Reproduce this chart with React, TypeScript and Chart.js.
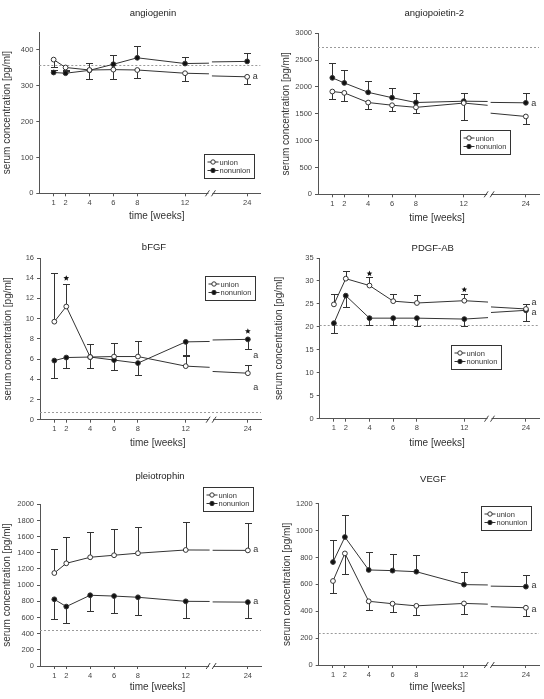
import { useEffect, useRef } from "react";
import { Chart, registerables } from "chart.js";

Chart.register(...registerables);

// ---------- data ----------
const weeks = [1, 2, 4, 6, 8, 12, 24];
const weekLabels = ["1", "2", "4", "6", "8", "12", "24"];
const seriesNames = ["union", "nonunion"];

const angiogeninUnion = [373, 351, 344, 345, 344, 335, 325];
const angiogeninUnionErr = [352, 345, 318, 320, 322, 313, 305];
const angiogeninNonunion = [337, 335, 343, 360, 378, 362, 368];
const angiogeninNonunionErr = [345, 342, 363, 385, 410, 381, 391];
const angiogeninRef = 357;
const angiogeninTicks = [0, 100, 200, 300, 400];
const angiogeninA = [325];
const angiogeninStars: number[][] = [];

const angiopoietinUnion = [1915, 1890, 1710, 1660, 1620, 1700, 1450];
const angiopoietinUnionErr = [1770, 1745, 1595, 1560, 1520, 1385, 1315];
const angiopoietinNonunion = [2170, 2075, 1900, 1800, 1710, 1735, 1705];
const angiopoietinNonunionErr = [2450, 2310, 2110, 1985, 1880, 1880, 1880];
const angiopoietinRef = 2750;
const angiopoietinTicks = [0, 500, 1000, 1500, 2000, 2500, 3000];
const angiopoietinA = [1696];
const angiopoietinStars: number[][] = [];

const bfgfUnion = [9.7, 11.2, 6.2, 6.25, 6.25, 5.3, 4.6];
const bfgfUnionErr = [14.5, 13.45, 7.5, 7.55, 7.8, 6.4, 5.45];
const bfgfNonunion = [5.85, 6.15, 6.2, 5.9, 5.6, 7.7, 7.95];
const bfgfNonunionErr = [4.15, 5.1, 5.1, 4.9, 4.45, 6.35, 7.0];
const bfgfRef = 0.75;
const bfgfTicks = [0, 2, 4, 6, 8, 10, 12, 14, 16];
const bfgfA = [6.4, 3.2];
const bfgfStars = [[2, 14.0], [24, 8.75]];

const pdgfUnion = [24.9, 30.5, 29.0, 25.6, 25.2, 25.7, 23.9];
const pdgfUnionErr = [27.1, 32.2, 30.8, 27.2, 27.0, 27.1, 25.05];
const pdgfNonunion = [20.8, 26.8, 21.9, 21.9, 21.9, 21.7, 23.6];
const pdgfNonunionErr = [18.7, 24.3, 20.4, 20.4, 20.2, 20.1, 21.3];
const pdgfRef = 20.3;
const pdgfTicks = [0, 5, 10, 15, 20, 25, 30, 35];
const pdgfA = [25.3, 23.2];
const pdgfStars = [[4, 31.6], [12, 28.1]];

const pleiotrophinUnion = [1150, 1270, 1345, 1370, 1395, 1435, 1430];
const pleiotrophinUnionErr = [1450, 1590, 1655, 1690, 1720, 1780, 1765];
const pleiotrophinNonunion = [825, 735, 875, 865, 850, 800, 790];
const pleiotrophinNonunionErr = [585, 530, 675, 655, 630, 598, 595];
const pleiotrophinRef = 440;
const pleiotrophinTicks = [0, 200, 400, 600, 800, 1000, 1200, 1400, 1600, 1800, 2000];
const pleiotrophinA = [1439, 792];
const pleiotrophinStars: number[][] = [];

const vegfUnion = [625, 830, 474, 456, 440, 458, 426];
const vegfUnionErr = [538, 674, 407, 394, 374, 382, 365];
const vegfNonunion = [766, 952, 707, 702, 694, 598, 583];
const vegfNonunionErr = [932, 1113, 843, 828, 821, 692, 672];
const vegfRef = 235;
const vegfTicks = [0, 200, 400, 600, 800, 1000, 1200];
const vegfA = [595, 414];
const vegfStars: number[][] = [];

// ---------- layout ----------
const FONT = "'Liberation Sans', Arial, Helvetica, sans-serif";
const INK = "#333";
const PANEL_W = 272;
const PANEL_H = 233;
const PLOT_W = 221;
const X_MIN = -0.2;
const X_MAX = 18.3;
const BREAK_START_WEEK = 14;
const BREAK_END_WEEK = 21.05;
const BREAK_SHIFT = 6.8;
const pos = (w: number) => (w <= BREAK_START_WEEK ? w : w - BREAK_SHIFT);

type PanelCfg = {
  title: string;
  union: number[];
  unionErr: number[];
  nonunion: number[];
  nonunionErr: number[];
  ref: number;
  ticks: number[];
  aVals: number[];
  stars: number[][];
  col: number;
  row: number;
  left: number;
  top: number;
  bottom: number;
  max: number;
  titleX: number;
  titleY: number;
  xTitleX: number;
  xTitleY: number;
  yTitleX: number;
  legendX: number;
  legendY: number;
};

const panels: PanelCfg[] = [
  {
    title: "angiogenin", union: angiogeninUnion, unionErr: angiogeninUnionErr,
    nonunion: angiogeninNonunion, nonunionErr: angiogeninNonunionErr, ref: angiogeninRef,
    ticks: angiogeninTicks, aVals: angiogeninA, stars: angiogeninStars,
    col: 0, row: 0, left: 39.3, top: 32, bottom: 193.3, max: 450,
    titleX: 153, titleY: 13, xTitleX: 156.7, xTitleY: 216.7, yTitleX: 7, legendX: 204, legendY: 154,
  },
  {
    title: "angiopoietin-2", union: angiopoietinUnion, unionErr: angiopoietinUnionErr,
    nonunion: angiopoietinNonunion, nonunionErr: angiopoietinNonunionErr, ref: angiopoietinRef,
    ticks: angiopoietinTicks, aVals: angiopoietinA, stars: angiopoietinStars,
    col: 1, row: 0, left: 46, top: 33.3, bottom: 194.3, max: 3000,
    titleX: 162.3, titleY: 13.3, xTitleX: 165, xTitleY: 218.3, yTitleX: 14.7, legendX: 188, legendY: 130,
  },
  {
    title: "bFGF", union: bfgfUnion, unionErr: bfgfUnionErr,
    nonunion: bfgfNonunion, nonunionErr: bfgfNonunionErr, ref: bfgfRef,
    ticks: bfgfTicks, aVals: bfgfA, stars: bfgfStars,
    col: 0, row: 1, left: 40, top: 25, bottom: 186.7, max: 16,
    titleX: 154, titleY: 14, xTitleX: 157.8, xTitleY: 210.7, yTitleX: 7.8, legendX: 205, legendY: 43,
  },
  {
    title: "PDGF-AB", union: pdgfUnion, unionErr: pdgfUnionErr,
    nonunion: pdgfNonunion, nonunionErr: pdgfNonunionErr, ref: pdgfRef,
    ticks: pdgfTicks, aVals: pdgfA, stars: pdgfStars,
    col: 1, row: 1, left: 47.7, top: 25, bottom: 185.7, max: 35,
    titleX: 160.7, titleY: 15, xTitleX: 165, xTitleY: 210, yTitleX: 7.5, legendX: 179, legendY: 112,
  },
  {
    title: "pleiotrophin", union: pleiotrophinUnion, unionErr: pleiotrophinUnionErr,
    nonunion: pleiotrophinNonunion, nonunionErr: pleiotrophinNonunionErr, ref: pleiotrophinRef,
    ticks: pleiotrophinTicks, aVals: pleiotrophinA, stars: pleiotrophinStars,
    col: 0, row: 2, left: 40, top: 38.3, bottom: 200, max: 2000,
    titleX: 160, titleY: 10.7, xTitleX: 157.5, xTitleY: 221, yTitleX: 7, legendX: 203, legendY: 21,
  },
  {
    title: "VEGF", union: vegfUnion, unionErr: vegfUnionErr,
    nonunion: vegfNonunion, nonunionErr: vegfNonunionErr, ref: vegfRef,
    ticks: vegfTicks, aVals: vegfA, stars: vegfStars,
    col: 1, row: 2, left: 46.7, top: 37.7, bottom: 199, max: 1200,
    titleX: 161, titleY: 13.3, xTitleX: 165.3, xTitleY: 221, yTitleX: 15, legendX: 209, legendY: 40,
  },
];

function drawStar(ctx: CanvasRenderingContext2D, cx: number, cy: number, r: number) {
  ctx.beginPath();
  for (let i = 0; i < 10; i++) {
    const rr = i % 2 === 0 ? r : r * 0.45;
    const a = -Math.PI / 2 + (i * Math.PI) / 5;
    const px = cx + rr * Math.cos(a);
    const py = cy + rr * Math.sin(a);
    if (i === 0) ctx.moveTo(px, py);
    else ctx.lineTo(px, py);
  }
  ctx.closePath();
  ctx.fill();
}

function makeConfig(p: PanelCfg): any {
  const lastIdx = weeks.length - 1;
  const decor = {
    id: "decor",
    beforeDatasetsDraw(chart: any) {
      const { ctx, chartArea } = chart;
      const x = chart.scales.x;
      const y = chart.scales.y;
      // reference line
      ctx.save();
      ctx.strokeStyle = "#9a9a9a";
      ctx.lineWidth = 1;
      ctx.setLineDash([2, 2]);
      const ry = Math.round(y.getPixelForValue(p.ref)) + 0.5;
      ctx.beginPath();
      ctx.moveTo(chartArea.left, ry);
      ctx.lineTo(chartArea.right, ry);
      ctx.stroke();
      ctx.restore();

      // broken last segments (straight in real weeks, cut by axis break)
      ctx.save();
      ctx.strokeStyle = INK;
      ctx.lineWidth = 1;
      [p.union, p.nonunion].forEach((vals) => {
        const w0 = weeks[lastIdx - 1];
        const w1 = weeks[lastIdx];
        const v0 = vals[lastIdx - 1];
        const v1 = vals[lastIdx];
        const at = (w: number) => v0 + ((v1 - v0) * (w - w0)) / (w1 - w0);
        ctx.beginPath();
        ctx.moveTo(x.getPixelForValue(pos(w0)), y.getPixelForValue(v0));
        ctx.lineTo(x.getPixelForValue(pos(BREAK_START_WEEK)), y.getPixelForValue(at(BREAK_START_WEEK)));
        ctx.moveTo(x.getPixelForValue(pos(BREAK_END_WEEK)), y.getPixelForValue(at(BREAK_END_WEEK)));
        ctx.lineTo(x.getPixelForValue(pos(w1)), y.getPixelForValue(v1));
        ctx.stroke();
      });

      // error bars
      const pairs: [number[], number[]][] = [
        [p.union, p.unionErr],
        [p.nonunion, p.nonunionErr],
      ];
      pairs.forEach(([vals, tips]) => {
        weeks.forEach((w, i) => {
          const px = Math.round(x.getPixelForValue(pos(w))) + 0.5;
          const y0 = y.getPixelForValue(vals[i]);
          const y1 = Math.round(y.getPixelForValue(tips[i])) + 0.5;
          ctx.beginPath();
          ctx.moveTo(px, y0);
          ctx.lineTo(px, y1);
          ctx.moveTo(px - 3.5, y1);
          ctx.lineTo(px + 3.5, y1);
          ctx.stroke();
        });
      });
      ctx.restore();
    },
    afterDraw(chart: any) {
      const { ctx, chartArea } = chart;
      const x = chart.scales.x;
      const y = chart.scales.y;
      ctx.save();
      // axis break mark
      const bx = x.getPixelForValue((pos(BREAK_START_WEEK) + pos(BREAK_END_WEEK)) / 2);
      const by = chartArea.bottom;
      ctx.fillStyle = "#fff";
      ctx.fillRect(bx - 2, by - 1.5, 4, 3);
      ctx.strokeStyle = "#444";
      ctx.lineWidth = 1;
      ctx.beginPath();
      ctx.moveTo(bx - 5, by + 3);
      ctx.lineTo(bx - 1, by - 3);
      ctx.moveTo(bx + 1, by + 3);
      ctx.lineTo(bx + 5, by - 3);
      ctx.stroke();

      // titles
      ctx.fillStyle = "#222";
      ctx.textAlign = "center";
      ctx.textBaseline = "middle";
      ctx.font = `9.5px ${FONT}`;
      ctx.fillText(p.title, p.titleX, p.titleY);
      ctx.fillStyle = INK;
      ctx.font = `10px ${FONT}`;
      ctx.fillText("time [weeks]", p.xTitleX, p.xTitleY);

      // "a" labels
      ctx.font = `9px ${FONT}`;
      const ax = x.getPixelForValue(pos(weeks[lastIdx])) + 8;
      p.aVals.forEach((v) => ctx.fillText("a", ax, y.getPixelForValue(v)));

      // stars
      ctx.fillStyle = "#111";
      p.stars.forEach(([w, v]) => drawStar(ctx, x.getPixelForValue(pos(w)), y.getPixelForValue(v), 3));

      // legend
      const lx = Math.round(p.legendX) + 0.5;
      const ly = Math.round(p.legendY) + 0.5;
      ctx.strokeStyle = INK;
      ctx.lineWidth = 1;
      ctx.strokeRect(lx, ly, 50, 24);
      ctx.textAlign = "left";
      ctx.font = `7.5px ${FONT}`;
      chart.data.datasets.forEach((ds: any, i: number) => {
        const ry = ly + 7.5 + i * 8.5;
        ctx.strokeStyle = INK;
        ctx.beginPath();
        ctx.moveTo(lx + 3, ry);
        ctx.lineTo(lx + 14, ry);
        ctx.stroke();
        ctx.beginPath();
        ctx.arc(lx + 8.5, ry, 2.2, 0, Math.PI * 2);
        ctx.fillStyle = ds.pointBackgroundColor;
        ctx.fill();
        ctx.stroke();
        ctx.fillStyle = INK;
        ctx.fillText(ds.label, lx + 15, ry + 0.5);
      });
      ctx.restore();
    },
  };

  const mkDataset = (label: string, vals: number[], open: boolean) => ({
    label,
    data: weeks.map((w, i) => ({ x: pos(w), y: vals[i] })),
    borderColor: INK,
    borderWidth: 1,
    pointRadius: 2.4,
    pointBorderWidth: 1,
    pointBorderColor: INK,
    pointBackgroundColor: open ? "#ffffff" : "#111111",
    segment: {
      borderColor: (c: any) => (c.p1DataIndex === lastIdx ? "rgba(0,0,0,0)" : undefined),
    },
  });

  return {
    type: "line",
    data: {
      datasets: [
        mkDataset(seriesNames[0], p.union, true),
        mkDataset(seriesNames[1], p.nonunion, false),
      ],
    },
    options: {
      animation: false,
      responsive: false,
      events: [],
      layout: {
        padding: { left: 0, top: p.top, right: PANEL_W - (p.left + PLOT_W), bottom: 0 },
      },
      plugins: {
        legend: { display: false },
        tooltip: { enabled: false },
        title: { display: false },
      },
      scales: {
        x: {
          type: "linear",
          min: X_MIN,
          max: X_MAX,
          afterBuildTicks: (s: any) => {
            s.ticks = weeks.map((w) => ({ value: pos(w) }));
          },
          afterFit: (s: any) => {
            s.height = PANEL_H - p.bottom;
          },
          ticks: {
            autoSkip: false,
            maxRotation: 0,
            padding: 2,
            color: "#444",
            font: { size: 7.5, family: FONT },
            callback: (_v: any, i: number) => weekLabels[i],
          },
          grid: { drawOnChartArea: false, drawTicks: true, tickLength: 3, color: "#555" },
          border: { display: true, color: "#555", width: 1 },
        },
        y: {
          type: "linear",
          min: 0,
          max: p.max,
          afterBuildTicks: (s: any) => {
            s.ticks = p.ticks.map((v) => ({ value: v }));
          },
          afterFit: (s: any) => {
            s.width = p.left;
          },
          ticks: {
            padding: 3,
            color: "#444",
            font: { size: 7.5, family: FONT },
            callback: (v: any) => String(v),
          },
          grid: { drawOnChartArea: false, drawTicks: true, tickLength: 3, color: "#555" },
          border: { display: true, color: "#555", width: 1 },
          title: {
            display: true,
            text: "serum concentration [pg/ml]",
            color: INK,
            font: { size: 10, family: FONT },
            padding: { top: p.yTitleX - 6, bottom: 0 },
          },
        },
      },
    },
    plugins: [decor],
  };
}

function Panel({ cfg }: { cfg: PanelCfg }) {
  const ref = useRef<HTMLCanvasElement>(null);
  useEffect(() => {
    const chart = new Chart(ref.current as HTMLCanvasElement, makeConfig(cfg));
    return () => chart.destroy();
  }, [cfg]);
  return (
    <canvas
      ref={ref}
      width={PANEL_W}
      height={PANEL_H}
      style={{
        position: "absolute",
        left: cfg.col * PANEL_W,
        top: cfg.row * PANEL_H,
        width: PANEL_W,
        height: PANEL_H,
      }}
    />
  );
}

export default function App() {
  return (
    <div
      style={{
        position: "absolute",
        left: 0,
        top: 0,
        width: 544,
        height: 699,
        background: "#fff",
        overflow: "hidden",
      }}
    >
      {panels.map((p) => (
        <Panel key={p.title} cfg={p} />
      ))}
    </div>
  );
}
